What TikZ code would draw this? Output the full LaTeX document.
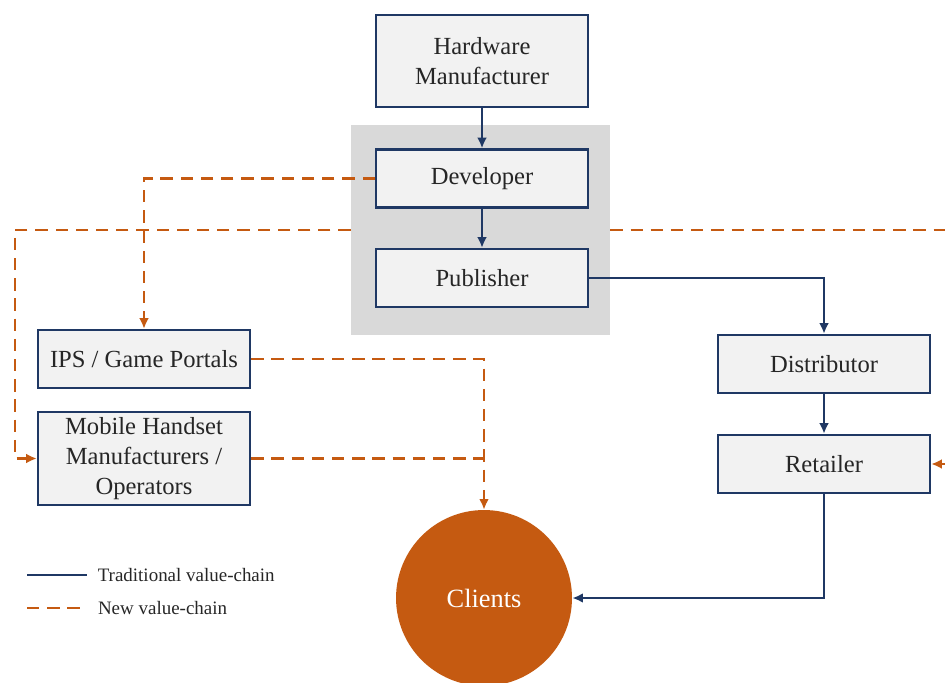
\documentclass[tikz,border=0pt]{standalone}
\usepackage{fontspec}
\setmainfont{Liberation Serif}
\usetikzlibrary{arrows.meta}
\definecolor{navy}{HTML}{1F3864}
\definecolor{rust}{HTML}{C55A11}
\definecolor{boxgrey}{HTML}{F2F2F2}
\definecolor{panelgrey}{HTML}{D9D9D9}
\definecolor{ink}{HTML}{262626}
\tikzset{
  >={Latex[length=6pt,width=5.5pt]},
}
\tikzstyle{actor}=[draw=navy,line width=1.4pt,fill=boxgrey,text=ink,font=\fontsize{14}{17}\selectfont,
  minimum width=4.24cm,minimum height=1.16cm,align=center,inner sep=2pt]
\tikzstyle{tradchain}=[navy,line width=1.6pt]
\tikzstyle{newchain}=[rust,line width=1.6pt,dash pattern=on 7pt off 4.5pt]
\tikzstyle{legend}=[text=ink,font=\fontsize{10.8}{12}\selectfont,right=2pt]

\begin{document}
\begin{tikzpicture}[x=0.02cm,y=-0.02cm]
  \useasboundingbox (0,0) rectangle (945,682);
  % grey panel behind developer and publisher
  \node (core) [fill=panelgrey,minimum width=5.18cm,minimum height=4.2cm,inner sep=0] at (480.5,230) {};

  \node (hw)   [actor,minimum height=1.84cm] at (482,61)  {Hardware\\Manufacturer};
  \node (dev)  [actor] at (482,178.5) {Developer};
  \node (pub)  [actor] at (482,278)   {Publisher};
  \node (ips)  [actor] at (144,359)   {IPS / Game Portals};
  \node (mob)  [actor,minimum height=1.86cm] at (144,458.5) {Mobile Handset\\Manufacturers /\\Operators};
  \node (dist) [actor] at (824,364)   {Distributor};
  \node (ret)  [actor] at (824,464)   {Retailer};
  \node (cli)  [circle,fill=rust,text=white,minimum size=3.52cm,font=\fontsize{15}{18}\selectfont] at (484,598) {Clients};

  \coordinate (lft)  at (15,230);
  \coordinate (rgt)  at (945,230);
  \coordinate (rgt2) at (945,464);

  % traditional chain
  \draw[tradchain,->] (hw) -- (dev);
  \draw[tradchain,->] (dev) -- (pub);
  \draw[tradchain,->] (pub.east) -| (dist.north);
  \draw[tradchain,->] (dist) -- (ret);
  \draw[tradchain,->] (ret.south) |- (cli.east);

  % new chain
  \draw[newchain,->] (dev.west) -| (ips.north);
  \draw[newchain,->] (core.west) -- (lft) |- (mob.west);
  \draw[newchain] (core.east) -- (rgt);
  \draw[newchain,->] (rgt2) -- (ret.east);
  \draw[newchain,->] (ips.east) -| (cli.north);
  \draw[newchain] (mob.east) -- (mob.east -| cli.north);

  % legend
  \coordinate (key1) at (27,575);
  \coordinate (key2) at (27,608);
  \draw[tradchain] (key1) -- ++(60,0) node[legend]{Traditional value-chain};
  \draw[newchain] (key2) -- ++(55,0) node[legend,right=3pt]{New value-chain};
\end{tikzpicture}
\end{document}
